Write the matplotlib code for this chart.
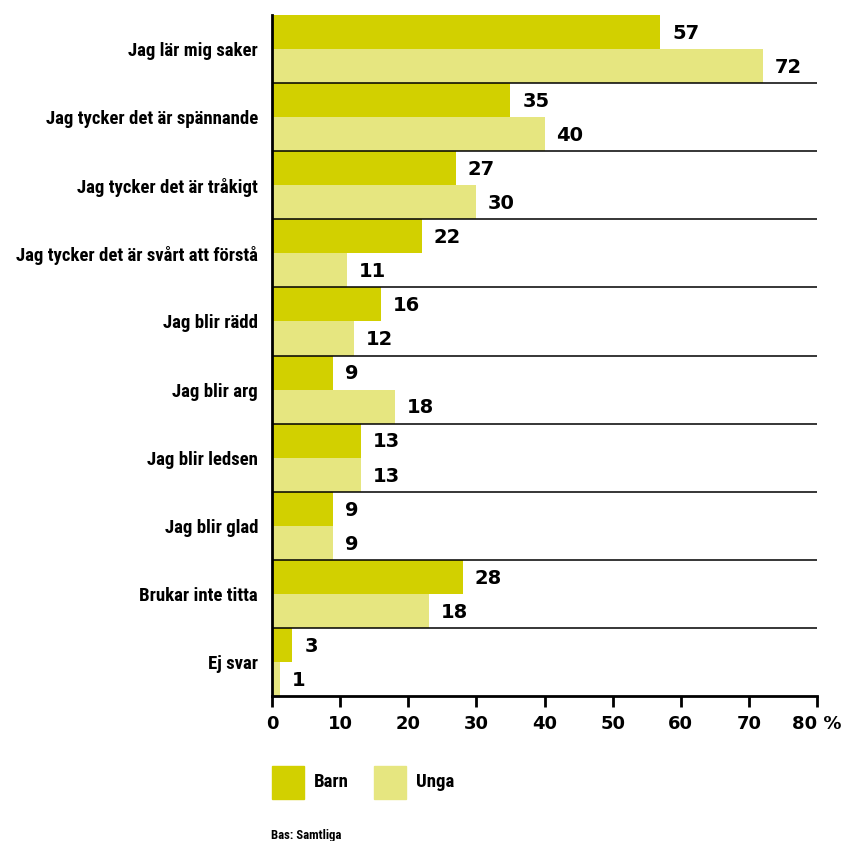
import numpy as np
import matplotlib.pyplot as plt
from matplotlib import font_manager
from matplotlib.patches import Rectangle

# data
categories = ["Jag lär mig saker", "Jag tycker det är spännande", "Jag tycker det är tråkigt",
              "Jag tycker det är svårt att förstå", "Jag blir rädd", "Jag blir arg",
              "Jag blir ledsen", "Jag blir glad", "Brukar inte titta", "Ej svar"]
barn = [57, 35, 27, 22, 16, 9, 13, 9, 28, 3]
unga_bar = [72, 40, 30, 11, 12, 18, 13, 9, 23, 1.2]   # bar lengths as drawn
unga_lbl = ["72", "40", "30", "11", "12", "18", "13", "9", "18", "1"]  # printed labels
barn_lbl = [str(v) for v in barn]
xticks = [0, 10, 20, 30, 40, 50, 60, 70, 80]
xtick_lbl = ["0", "10", "20", "30", "40", "50", "60", "70", "80 %"]

c_barn = "#d2d000"
c_unga = "#e6e680"

# pick a narrow font for the text labels if one is around
fonts = [(f.name, str(f.stretch)) for f in font_manager.fontManager.ttflist]
names = {n for n, s in fonts}
if "Roboto Condensed" in names:
    lab = dict(family=["Roboto Condensed", "DejaVu Sans"], fontsize=13.5)
elif "Liberation Sans Narrow" in names:
    lab = dict(family=["Liberation Sans Narrow", "DejaVu Sans"], fontsize=13)
else:
    lab = dict(family=["Liberation Sans", "DejaVu Sans"], fontsize=10.3)
num = dict(family=["DejaVu Sans"], fontsize=13, fontweight="bold")
barnum = dict(num, fontsize=14)

fig = plt.figure(figsize=(8.42, 8.41), dpi=100)
ax = fig.add_axes([272/842, 1-696/841, (817-272)/842, (696-15)/841])

n = len(categories)
y = np.arange(n)
ax.barh(y + 0.25, barn, height=0.5, color=c_barn, zorder=2)
ax.barh(y + 0.75, unga_bar, height=0.5, color=c_unga, zorder=2)

for i in range(n):
    ax.annotate(barn_lbl[i], (barn[i], i + 0.27), xytext=(8.5, 0), textcoords="offset points",
                va="center", ha="left", **barnum)
    ax.annotate(unga_lbl[i], (unga_bar[i], i + 0.77), xytext=(8.5, 0), textcoords="offset points",
                va="center", ha="left", **barnum)

for b in range(1, n):
    ax.axhline(b, color="black", lw=1.1, zorder=3)

ax.set_xlim(0, 80)
ax.set_ylim(n, 0)
ax.set_yticks(y + 0.5)
ax.set_yticklabels(categories, fontweight="bold", **lab)
ax.tick_params(axis="y", length=0, pad=10)
ax.set_xticks(xticks)
ax.set_xticklabels(xtick_lbl, **num)
ax.tick_params(axis="x", length=8, width=2, pad=6)
for s in ["top", "right"]:
    ax.spines[s].set_visible(False)
ax.spines["left"].set_linewidth(2)
ax.spines["bottom"].set_linewidth(2)

# legend
for x0, col, name in [(272, c_barn, "Barn"), (374, c_unga, "Unga")]:
    fig.patches.append(Rectangle((x0/842, 1-799/841), 32/842, 33/841, color=col,
                                 transform=fig.transFigure, figure=fig))
    fig.text((x0 + 42)/842, 1-782/841, name, fontweight="bold", va="center", **lab)

small = dict(lab)
small["fontsize"] = lab["fontsize"] * 0.68
fig.text(271/842, 1-836/841, "Bas: Samtliga", fontweight="bold", va="center", **small)

fig.savefig("out.png", dpi=100)
